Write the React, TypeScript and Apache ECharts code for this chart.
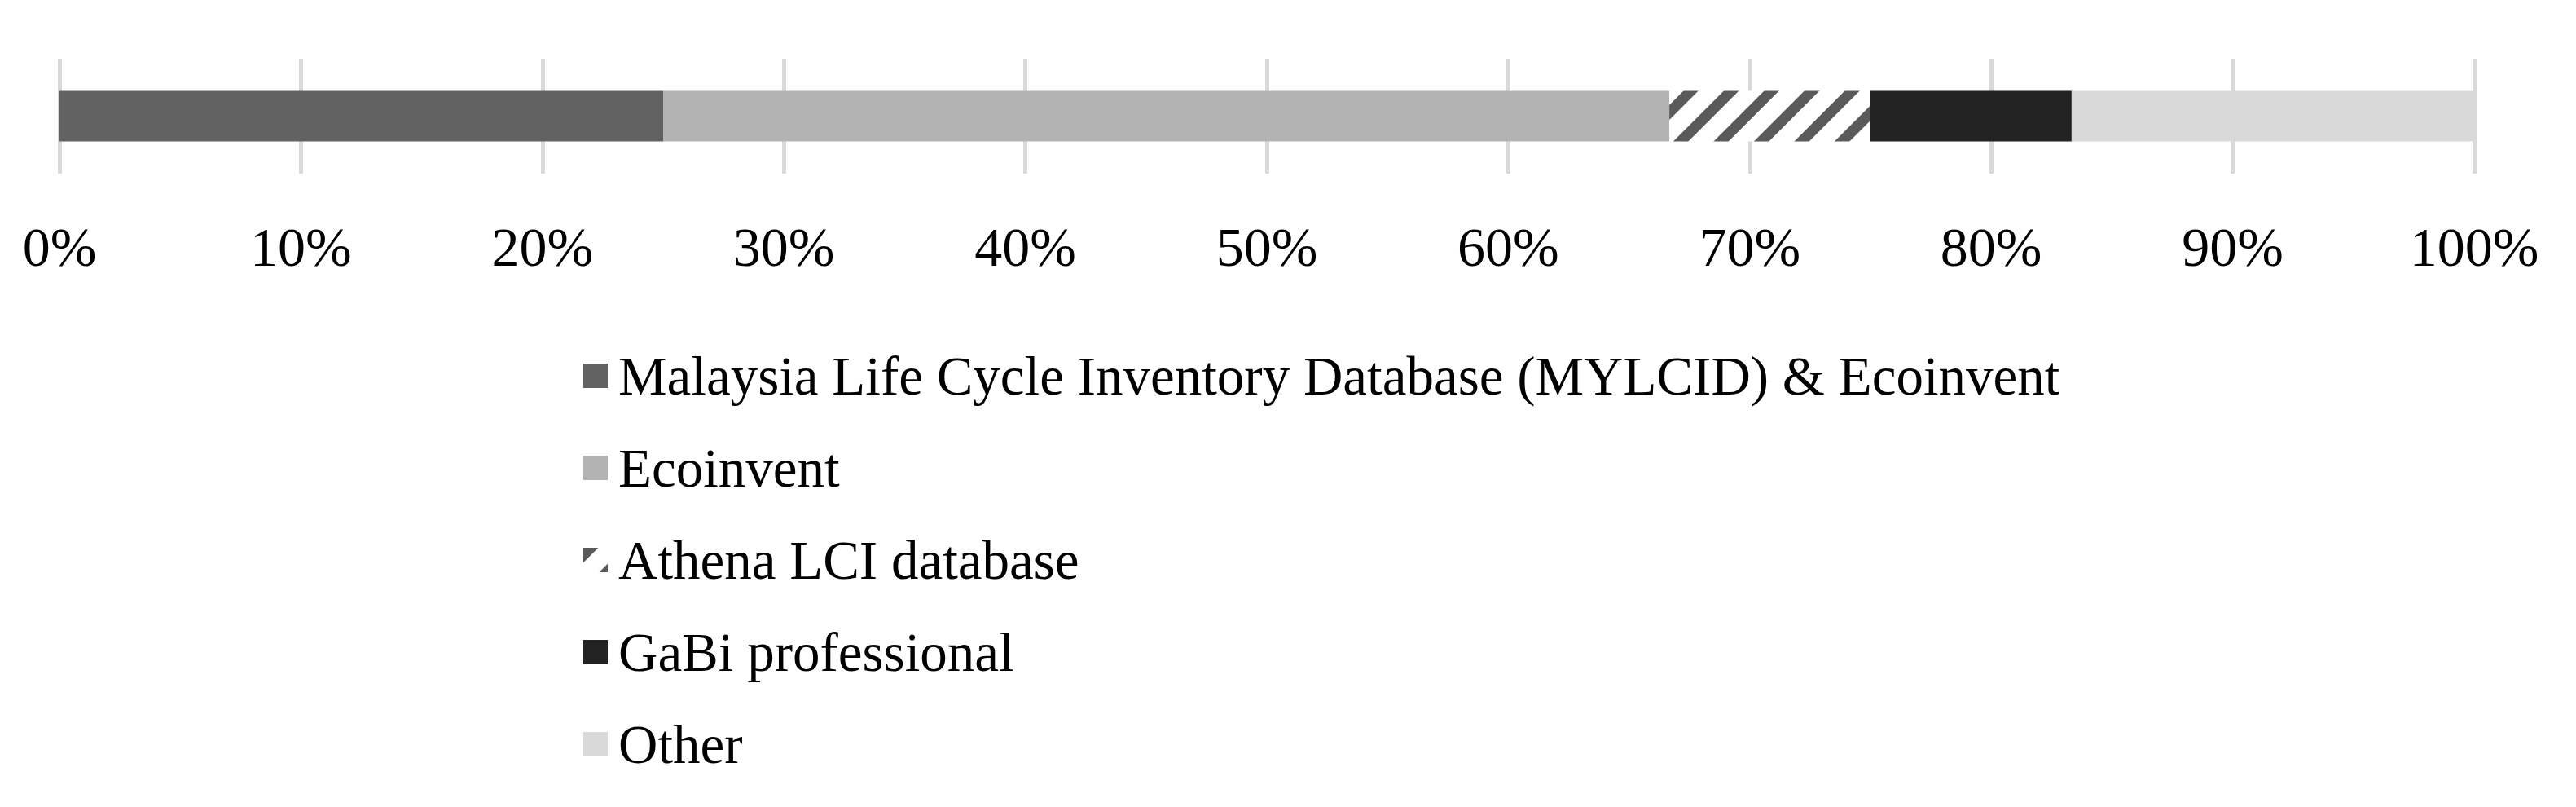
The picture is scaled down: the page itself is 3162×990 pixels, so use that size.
import React, { useEffect, useRef } from "react";
import * as echarts from "echarts";

const seriesNames = [
  "Malaysia Life Cycle Inventory Database (MYLCID) & Ecoinvent",
  "Ecoinvent",
  "Athena LCI database",
  "GaBi professional",
  "Other",
];
const shares = [25, 41.67, 8.33, 8.33, 16.67];
const colors = ["#626262", "#b3b3b3", "#ffffff", "#232323", "#d9d9d9"];
const categories = [""];
const tickValues = [0, 10, 20, 30, 40, 50, 60, 70, 80, 90, 100];

const FONT = "'Liberation Serif', 'Times New Roman', serif";

export default function App() {
  const ref = useRef<HTMLDivElement>(null);
  useEffect(() => {
    if (!ref.current) return;
    const chart = echarts.init(ref.current, undefined, { renderer: "svg" });
    chart.setOption({
      animation: false,
      backgroundColor: "#ffffff",
      grid: { left: 73, right: 125, top: 72, height: 141, containLabel: false },
      xAxis: {
        type: "value",
        min: tickValues[0],
        max: tickValues[tickValues.length - 1],
        interval: 10,
        axisLine: { show: false },
        axisTick: { show: false },
        splitLine: { show: true, lineStyle: { color: "#d9d9d9", width: 5 } },
        axisLabel: {
          formatter: "{value}%",
          fontFamily: FONT,
          fontSize: 68,
          color: "#000",
          margin: 56,
        },
      },
      yAxis: {
        type: "category",
        data: categories,
        axisLine: { show: false },
        axisTick: { show: false },
        axisLabel: { show: false },
      },
      legend: {
        orient: "vertical",
        left: 711,
        top: 421,
        itemWidth: 30,
        itemHeight: 30,
        itemGap: 43,
        icon: "rect",
        textStyle: {
          fontFamily: FONT,
          fontSize: 67,
          lineHeight: 70,
          color: "#000",
          padding: [0, 0, 0, 8],
        },
        data: seriesNames,
      },
      series: seriesNames.map((name, i) => ({
        name,
        type: "bar",
        stack: "total",
        barWidth: 62,
        data: [shares[i]],
        itemStyle: {
          color: colors[i],
          decal:
            i === 2
              ? {
                  symbol: "rect",
                  symbolSize: 1,
                  color: "#5a5a5a",
                  dashArrayX: [1, 0],
                  dashArrayY: [13, 22],
                  rotation: -Math.PI / 4,
                }
              : "none",
        },
      })),
    });
    return () => chart.dispose();
  }, []);
  return (
    <div
      ref={ref}
      style={{ position: "fixed", left: 0, top: 0, width: 3162, height: 990 }}
    />
  );
}
